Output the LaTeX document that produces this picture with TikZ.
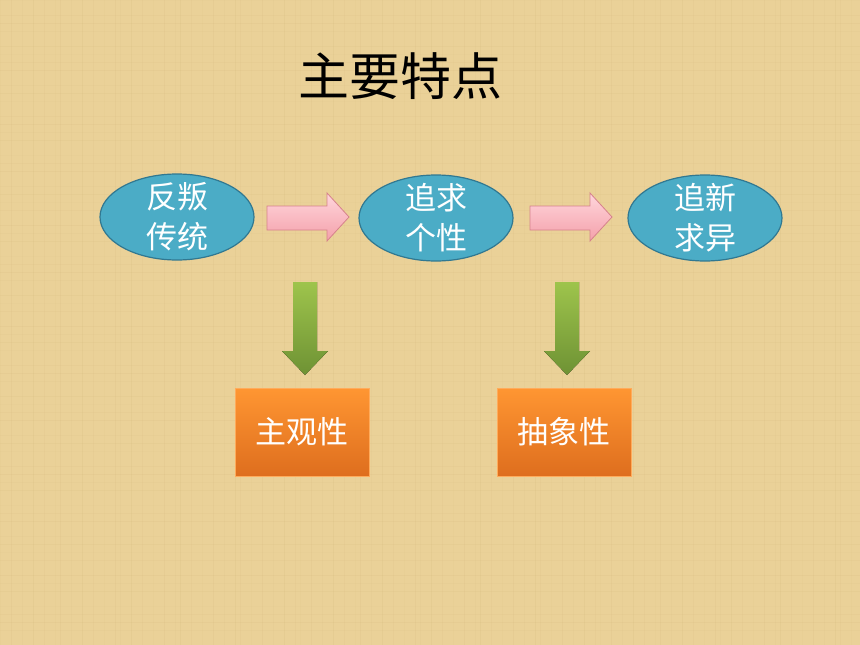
\documentclass[tikz,border=0pt]{standalone}
\usepackage{fontspec}
\setmainfont{Noto Sans CJK SC}
\newfontfamily\cjk{Noto Sans CJK SC}
\usetikzlibrary{shapes.geometric,shadows}
\definecolor{parch}{RGB}{234,209,152}
\definecolor{parchd}{RGB}{205,175,115}
\definecolor{parchl}{RGB}{245,226,180}
\definecolor{aqua}{RGB}{75,172,198}
\definecolor{aquad}{RGB}{49,120,145}
\definecolor{pinkl}{RGB}{255,214,220}
\definecolor{pinkd}{RGB}{244,160,170}
\definecolor{pinkb}{RGB}{214,130,140}
\definecolor{greenl}{RGB}{158,196,76}
\definecolor{greend}{RGB}{110,146,52}
\definecolor{orangel}{RGB}{255,150,50}
\definecolor{oranged}{RGB}{222,110,30}
\tikzset{
  oval/.style={ellipse, draw=aquad, line width=1.2pt, fill=aqua, minimum width=154pt, minimum height=86pt, inner sep=0pt},
  ovaltext/.style={text=white, font=\cjk\fontsize{31}{40}\selectfont, align=center, inner sep=0pt},
  box/.style={rectangle, draw=orangel!80!white, line width=0.5pt, top color=orangel, bottom color=oranged, minimum width=134pt, minimum height=88pt, inner sep=0pt, text=white, font=\cjk\fontsize{31}{36}\selectfont, drop shadow={shadow xshift=1pt, shadow yshift=-1pt, opacity=0.3}},
  pinkarrow/.style={draw=pinkb, line width=0.8pt, top color=pinkl, bottom color=pinkd},
  greenarrow/.style={draw=none, top color=greenl, bottom color=greend},
}
\begin{document}
\begin{tikzpicture}[x=1pt,y=-1pt]
\useasboundingbox (0,0) rectangle (860,645);
\fill[parch] (0,0) rectangle (860,645);
% faint texture
\foreach \i in {0,...,85} {
  \pgfmathsetmacro\xx{10*\i+mod(7*\i,6)}
  \pgfmathsetmacro\op{0.06+0.02*mod(3*\i,5)}
  \draw[parchd, opacity=\op, line width=0.8pt] (\xx,0) -- (\xx,645);
}
\foreach \j in {0,...,64} {
  \pgfmathsetmacro\yy{10*\j+mod(5*\j,7)}
  \pgfmathsetmacro\op{0.05+0.02*mod(2*\j,5)}
  \draw[parchd, opacity=\op, line width=0.8pt] (0,\yy) -- (860,\yy);
}
\node[font=\cjk\fontsize{51}{56}\selectfont, text=black, inner sep=0pt] (title) at (400,76) {主要特点};
\node[oval] (e1) at (177,217) {};
\node[oval] (e2) at (436,218) {};
\node[oval] (e3) at (705,218) {};
\node[ovaltext] (t1) at (e1.center) {反叛\\传统};
\node[ovaltext] (t2) at (e2.center) {追求\\个性};
\node[ovaltext] (t3) at (e3.center) {追新\\求异};
\node[box] (b1) at (302,432) {主观性};
\node[box] (b2) at (564,432) {抽象性};
% pink block arrows
\draw[pinkarrow] (267,206) -- (327,206) -- (327,193) -- (349,217) -- (327,241) -- (327,230) -- (267,230) -- cycle;
\draw[pinkarrow] (530,206) -- (590,206) -- (590,193) -- (612,217) -- (590,241) -- (590,230) -- (530,230) -- cycle;
% green block arrows
\fill[greenarrow] (293,282) -- (317,282) -- (317,351) -- (328,351) -- (305,375) -- (282,351) -- (293,351) -- cycle;
\fill[greenarrow] (555,282) -- (579,282) -- (579,351) -- (590,351) -- (567,375) -- (544,351) -- (555,351) -- cycle;
\end{tikzpicture}
\end{document}
